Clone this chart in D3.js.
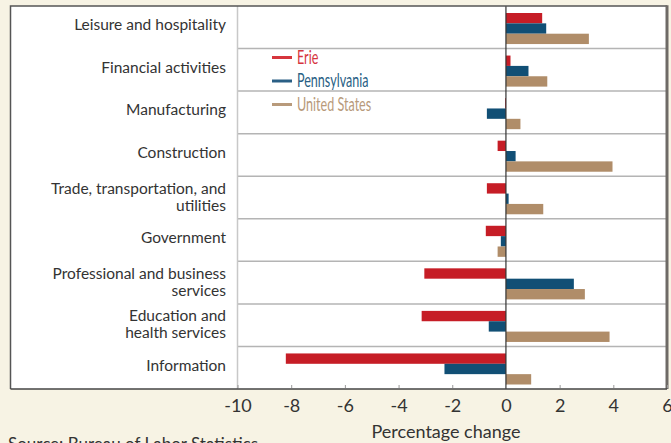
<!DOCTYPE html>
<html>
<head>
<meta charset="utf-8">
<script src="https://cdn.jsdelivr.net/npm/d3@7"></script>
<style>
	html, body { margin: 0; padding: 0; background: #f7f3e4; }
	svg { display: block; }
	.cat { font-family: Lato, "Noto Sans", sans-serif; font-size: 15.5px; fill: #333; }
	.tick text { font-family: Lato, "Noto Sans", sans-serif; font-size: 18px; fill: #333; }
	.leg { font-family: Lato, "Noto Sans", sans-serif; font-size: 18.5px; }
</style>
</head>
<body>
<div id="chart"></div>
<script>
// categories, top to bottom
var categories = [
	"Leisure and hospitality",
	"Financial activities",
	"Manufacturing",
	"Construction",
	"Trade, transportation, and|utilities",
	"Government",
	"Professional and business|services",
	"Education and|health services",
	"Information"
];
var seriesNames = ["Erie", "Pennsylvania", "United States"];
var seriesColors = ["#c61d26", "#114f75", "#b08d69"];
var legendColors = ["#d6353d", "#2a5f85", "#b89a7b"];

var erie = [1.35, 0.17, -0.03, -0.31, -0.71, -0.75, -3.04, -3.14, -8.2];
var pennsylvania = [1.5, 0.84, -0.71, 0.36, 0.1, -0.19, 2.53, -0.64, -2.29];
var unitedStates = [3.09, 1.54, 0.54, 3.97, 1.39, -0.31, 2.94, 3.86, 0.94];
var xTicks = [-10, -8, -6, -4, -2, 0, 2, 4, 6];

var W = 671, H = 443;
var frame = { left: 10.5, top: 6, right: 667, bottom: 389 };
var plotLeft = 237.5;

var svg = d3.select("#chart").append("svg")
	.attr("width", W).attr("height", H);

// white panel
svg.append("rect")
	.attr("x", frame.left).attr("y", frame.top)
	.attr("width", frame.right - frame.left).attr("height", frame.bottom - frame.top)
	.style("fill", "#fff");

var x = d3.scaleLinear().domain([-10, 6]).range([plotLeft, frame.right]);
var y = d3.scaleBand().domain(d3.range(categories.length)).range([frame.top, frame.bottom]);
// bars sit slightly low in each band
var inner = d3.scaleBand().domain(d3.range(3))
	.range([7, y.bandwidth() - 4.5]);

// separators
svg.append("g").selectAll("line")
	.data(d3.range(1, categories.length))
	.join("line")
	.attr("x1", plotLeft).attr("x2", frame.right)
	.attr("y1", function (d) { return y(d); })
	.attr("y2", function (d) { return y(d); })
	.style("stroke", "#b4b4b4").style("stroke-width", 1.5);

// left plot edge
svg.append("line")
	.attr("x1", plotLeft).attr("x2", plotLeft)
	.attr("y1", frame.top).attr("y2", frame.bottom)
	.style("stroke", "#c8c8c8").style("stroke-width", 1.5);

// bars
var series = [erie, pennsylvania, unitedStates];
series.forEach(function (vals, si) {
	svg.append("g").selectAll("rect")
		.data(vals)
		.join("rect")
		.attr("x", function (d) { return x(Math.min(0, d)); })
		.attr("y", function (d, i) { return y(i) + inner(si); })
		.attr("width", function (d) { return Math.abs(x(d) - x(0)); })
		.attr("height", inner.bandwidth())
		.style("fill", seriesColors[si]);
});

// zero line
svg.append("line")
	.attr("x1", x(0)).attr("x2", x(0))
	.attr("y1", frame.top).attr("y2", frame.bottom)
	.style("stroke", "#333").style("stroke-width", 1.2);

// category labels
var lab = svg.append("g").selectAll("text")
	.data(categories)
	.join("text")
	.attr("class", "cat")
	.attr("text-anchor", "end")
	.attr("x", 226)
	.attr("y", function (d, i) { return y(i) + y.bandwidth() / 2; });
lab.each(function (d) {
	var parts = d.split("|"), t = d3.select(this);
	parts.forEach(function (p, k) {
		t.append("tspan")
			.attr("x", 226)
			.attr("dy", k === 0 ? (parts.length === 1 ? "0.2em" : "-0.25em") : "1.1em")
			.text(p);
	});
});

// frame
svg.append("path")
	.attr("d", "M" + frame.left + "," + frame.bottom + "V" + frame.top + "H" + frame.right)
	.style("fill", "none").style("stroke", "#555").style("stroke-width", 1.5);
svg.append("line")
	.attr("x1", frame.right).attr("x2", frame.right)
	.attr("y1", frame.top - 0.75).attr("y2", frame.bottom)
	.style("stroke", "#6e6a66").style("stroke-width", 3);
svg.append("line")
	.attr("x1", frame.left).attr("x2", frame.right)
	.attr("y1", frame.bottom).attr("y2", frame.bottom)
	.style("stroke", "#444").style("stroke-width", 1.5);

// x axis
var axis = svg.append("g")
	.attr("transform", "translate(0," + frame.bottom + ")")
	.call(d3.axisBottom(x).tickValues(xTicks).tickSize(0).tickPadding(9)
		.tickFormat(function (d) { return String(d); }));
axis.select(".domain").remove();
axis.selectAll(".tick text").attr("dy", "0.75em");
axis.selectAll(".tick").append("line")
	.attr("y1", -1).attr("y2", -4)
	.style("stroke", "#999");

svg.append("text")
	.attr("x", 446).attr("y", 438)
	.attr("text-anchor", "middle")
	.style("font-family", "Lato, 'Noto Sans', sans-serif")
	.style("font-size", "18px").style("fill", "#333")
	.text("Percentage change");

svg.append("text")
	.attr("x", 8).attr("y", 450)
	.style("font-family", "Lato, 'Noto Sans', sans-serif")
	.style("font-size", "17px").style("fill", "#333")
	.text("Source: Bureau of Labor Statistics");

// legend
var leg = svg.append("g").selectAll("g")
	.data(seriesNames)
	.join("g")
	.attr("transform", function (d, i) { return "translate(272," + (57.5 + i * 23.5) + ")"; });
leg.append("line")
	.attr("x1", 0).attr("x2", 20)
	.style("stroke", function (d, i) { return legendColors[i]; })
	.style("stroke-width", 3);
leg.append("text")
	.attr("class", "leg")
	.attr("transform", "translate(25,0) scale(0.68,1)")
	.attr("dy", "0.35em")
	.style("fill", function (d, i) { return legendColors[i]; })
	.text(function (d) { return d; });
</script>
</body>
</html>
